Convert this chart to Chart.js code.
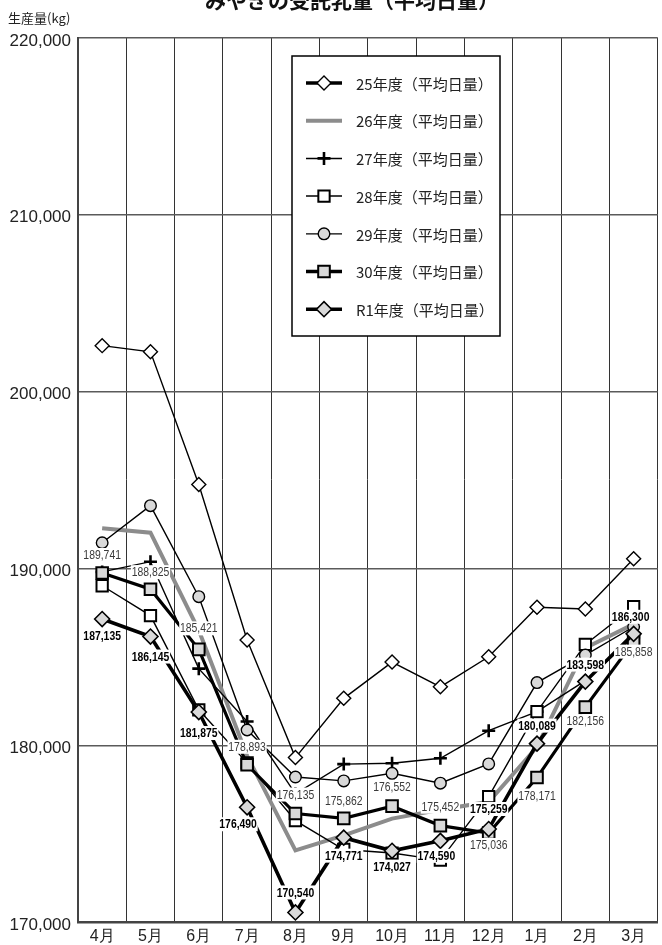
<!DOCTYPE html>
<html>
<head>
<meta charset="utf-8">
<script src="https://cdn.jsdelivr.net/npm/chart.js@4.4.1/dist/chart.umd.min.js"></script>
<style>
html, body { margin: 0; padding: 0; background: #fff; overflow: hidden; }
#wrap { width: 668px; height: 945px; }
</style>
</head>
<body>
<div id="wrap"><canvas id="chart" width="668" height="945"></canvas></div>
<script>
// months and yearly series (kg / day)
const months = ['4月', '5月', '6月', '7月', '8月', '9月', '10月', '11月', '12月', '1月', '2月', '3月'];
const h25 = [202600, 202250, 194750, 185950, 179300, 182650, 184700, 183300, 185000, 187800, 187700, 190550];
const h26 = [192270, 192020, 186500, 179400, 174050, 174900, 175850, 176350, 176800, 179900, 185500, 186850];
const h27 = [189800, 190380, 184330, 181340, 177250, 178930, 178980, 179260, 180820, 181900, 183650, 186100];
const h28 = [189020, 187330, 182000, 179000, 175730, 174100, 173900, 173500, 177090, 181900, 185700, 187830];
const h29 = [191450, 193550, 188400, 180860, 178200, 177980, 178410, 177850, 178940, 183540, 185100, 186700];
const h30 = [189741, 188825, 185421, 178893, 176135, 175862, 176552, 175452, 175036, 178171, 182156, 185858];
const r1 = [187135, 186145, 181875, 176490, 170540, 174771, 174027, 174590, 175259, 180089, 183598, 186300];
const yTicks = [170000, 180000, 190000, 200000, 210000, 220000];

const GRAY_FILL = '#d9d9d9';
const JP = '"Noto Sans CJK JP", "Noto Sans", sans-serif';
const NUM = '"Liberation Sans", "DejaVu Sans", sans-serif';

const datasets = [
    { label: '25年度(平均日量)', data: h25, borderColor: '#000', borderWidth: 1.4,
      pointStyle: 'rectRot', pointRadius: 7, pointBackgroundColor: '#fff', pointBorderColor: '#000', pointBorderWidth: 1.4,
      legendLine: 3.5, order: 6 },
    { label: '26年度(平均日量)', data: h26, borderColor: '#8c8c8c', borderWidth: 4,
      pointRadius: 0, legendLine: 4, order: 5 },
    { label: '27年度(平均日量)', data: h27, borderColor: '#000', borderWidth: 1.4,
      pointStyle: 'cross', pointRadius: 6.5, pointBackgroundColor: '#000', pointBorderColor: '#000', pointBorderWidth: 2.6,
      legendLine: 1.5, order: 4 },
    { label: '28年度(平均日量)', data: h28, borderColor: '#000', borderWidth: 1.4,
      pointStyle: 'rect', pointRadius: 8, pointBackgroundColor: '#fff', pointBorderColor: '#000', pointBorderWidth: 2,
      legendLine: 1.5, order: 3 },
    { label: '29年度(平均日量)', data: h29, borderColor: '#000', borderWidth: 1.4,
      pointStyle: 'circle', pointRadius: 5.8, pointBackgroundColor: GRAY_FILL, pointBorderColor: '#000', pointBorderWidth: 1.4,
      legendLine: 1.3, order: 2 },
    { label: '30年度(平均日量)', data: h30, borderColor: '#000', borderWidth: 3.2,
      pointStyle: 'rect', pointRadius: 8.2, pointBackgroundColor: GRAY_FILL, pointBorderColor: '#000', pointBorderWidth: 2,
      legendLine: 3.5, order: 1 },
    { label: 'R1年度(平均日量)', data: r1, borderColor: '#000', borderWidth: 3.6,
      pointStyle: 'rectRot', pointRadius: 7.5, pointBackgroundColor: GRAY_FILL, pointBorderColor: '#000', pointBorderWidth: 1.6,
      legendLine: 3.5, order: 0 }
];

// where each value label sits relative to its point (px)
const offsets30 = [[0, -18], [0, -17], [0, -21], [0, -18], [0, -19], [0, -17], [0, -19], [0, -19], [0, 12], [0, 18], [0, 14], [0, 10]];
const offsetsR1 = [[0, 17], [0, 20], [0, 21], [-9, 17], [0, -20], [0, 18], [0, 16], [-4, 15], [0, -20], [0, -18], [0, -17], [-3, -17]];

const valueLabels = {
    id: 'valueLabels',
    afterDatasetsDraw(chart) {
        const ctx = chart.ctx;
        const squeeze = 0.8; // the source uses a condensed face
        const drawSet = (dsIndex, offs, font, color) => {
            const meta = chart.getDatasetMeta(dsIndex);
            const values = chart.data.datasets[dsIndex].data;
            meta.data.forEach((pt, i) => {
                const text = values[i].toLocaleString('en-US');
                ctx.save();
                ctx.translate(pt.x + offs[i][0], pt.y + offs[i][1]);
                ctx.scale(squeeze, 1);
                ctx.font = font;
                ctx.textAlign = 'center';
                ctx.textBaseline = 'middle';
                const w = ctx.measureText(text).width;
                ctx.fillStyle = '#fff';
                ctx.fillRect(-w / 2 - 1, -7, w + 2, 14);
                ctx.fillStyle = color;
                ctx.fillText(text, 0, 0.5);
                ctx.restore();
            });
        };
        drawSet(5, offsets30, '13px ' + NUM, '#3a3a3a');
        drawSet(6, offsetsR1, 'bold 13px ' + NUM, '#000');
    }
};

const boxLegend = {
    id: 'boxLegend',
    afterDraw(chart) {
        const ctx = chart.ctx;
        ctx.save();
        // legend box
        ctx.fillStyle = '#fff';
        ctx.fillRect(292, 56, 208, 280);
        ctx.strokeStyle = '#000';
        ctx.lineWidth = 1.5;
        ctx.strokeRect(292, 56, 208, 280);
        chart.data.datasets.forEach((ds, i) => {
            const y = 83 + i * 37.7;
            ctx.strokeStyle = ds.borderColor;
            ctx.lineWidth = ds.legendLine;
            ctx.beginPath();
            ctx.moveTo(306, y);
            ctx.lineTo(342, y);
            ctx.stroke();
            if (ds.pointRadius > 0) {
                ctx.fillStyle = ds.pointBackgroundColor;
                ctx.strokeStyle = ds.pointBorderColor;
                ctx.lineWidth = ds.pointBorderWidth;
                Chart.helpers.drawPoint(ctx, {
                    pointStyle: ds.pointStyle,
                    radius: ds.pointRadius,
                    rotation: 0,
                    borderWidth: ds.pointBorderWidth
                }, 324, y);
            }
            ctx.fillStyle = '#222';
            ctx.font = '15px ' + JP;
            ctx.textAlign = 'left';
            ctx.textBaseline = 'middle';
            ctx.fillText(ds.label.replace('(', '（').replace(')', '）'), 356, y + 1);
        });
        // y axis unit and (cut off) title
        ctx.fillStyle = '#222';
        ctx.font = '13px ' + JP;
        ctx.textAlign = 'left';
        ctx.textBaseline = 'middle';
        ctx.fillText('生産量(kg)', 8, 18);
        ctx.font = 'bold 21px ' + JP;
        ctx.textAlign = 'center';
        ctx.fillStyle = '#111';
        ctx.fillText('みやぎの受託乳量（平均日量）', 352, 0);
        ctx.restore();
    }
};

new Chart(document.getElementById('chart'), {
    type: 'line',
    data: { labels: months, datasets: datasets },
    options: {
        responsive: false,
        devicePixelRatio: 1,
        animation: false,
        layout: { padding: { top: 38, right: 1, left: 0, bottom: 0 } },
        elements: { line: { tension: 0, fill: false } },
        plugins: {
            legend: { display: false },
            title: { display: false },
            tooltip: { enabled: false }
        },
        scales: {
            x: {
                type: 'category',
                offset: true,
                grid: { offset: true, color: '#333', lineWidth: 1, drawTicks: false },
                border: { display: true, color: '#444', width: 2.5 },
                ticks: { color: '#222', font: { family: NUM, size: 16 }, padding: 5, maxRotation: 0, autoSkip: false },
                afterFit: s => { s.height = 23; }
            },
            y: {
                min: yTicks[0],
                max: yTicks[yTicks.length - 1],
                afterBuildTicks: s => { s.ticks = yTicks.map(v => ({ value: v })); },
                grid: { color: '#5a5a5a', lineWidth: 1.4, drawTicks: false },
                border: { display: true, color: '#444', width: 2 },
                ticks: {
                    color: '#222',
                    font: { family: NUM, size: 17 },
                    padding: 7,
                    labelOffset: 3,
                    callback: v => v.toLocaleString('en-US')
                },
                afterFit: s => { s.width = 78; }
            }
        }
    },
    plugins: [valueLabels, boxLegend]
});
</script>
</body>
</html>
